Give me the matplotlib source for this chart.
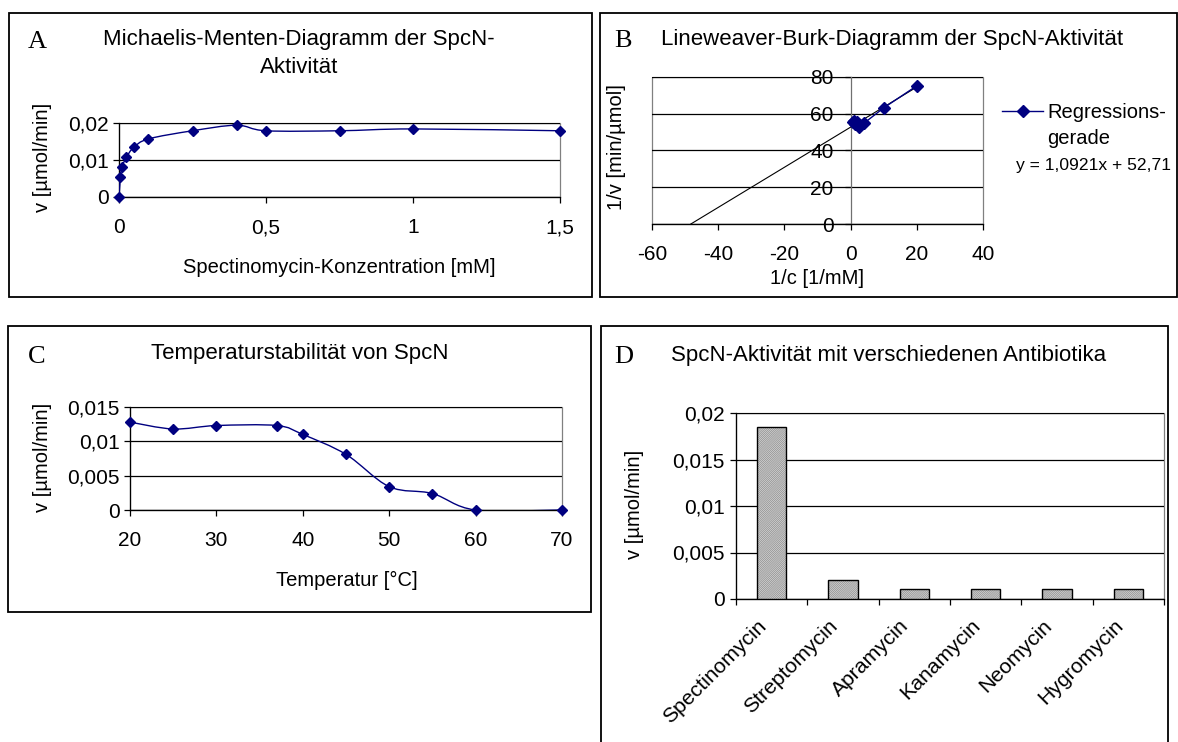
import numpy as np
import matplotlib
matplotlib.use("Agg")
import matplotlib.pyplot as plt
import matplotlib.transforms as mtransforms
from matplotlib.path import Path
from matplotlib.patches import PathPatch, Rectangle

# --- data ---
# A: Michaelis-Menten
mm_conc = [0, 0.005, 0.01, 0.025, 0.05, 0.1, 0.25, 0.4, 0.5, 0.75, 1.0, 1.5]
mm_rate = [0, 0.0054, 0.0081, 0.0107, 0.0134, 0.0157, 0.0179, 0.0194, 0.0179, 0.0179, 0.0184, 0.0179]
mm_xticks = [0, 0.5, 1, 1.5]
mm_xticklabels = ["0", "0,5", "1", "1,5"]
mm_yticks = [0, 0.01, 0.02]
mm_yticklabels = ["0", "0,01", "0,02"]

# B: Lineweaver-Burk
lb_inv_c = [0.67, 1.0, 1.33, 2.0, 2.5, 4.0, 10.0, 20.0]
lb_inv_v = [55.4, 56.0, 54.6, 55.6, 53.0, 54.8, 63.2, 75.2]
lb_slope = 1.0921
lb_intercept = 52.71
lb_xticks = [-60, -40, -20, 0, 20, 40]
lb_xticklabels = ["-60", "-40", "-20", "0", "20", "40"]
lb_yticks = [0, 20, 40, 60, 80]
lb_yticklabels = ["0", "20", "40", "60", "80"]

# C: temperature stability
temp = [20, 25, 30, 37, 40, 45, 50, 55, 60, 70]
temp_rate = [0.0128, 0.0118, 0.0123, 0.0123, 0.0110, 0.0081, 0.0034, 0.0024, 0.0, 0.0]
temp_xticks = [20, 30, 40, 50, 60, 70]
temp_yticks = [0, 0.005, 0.01, 0.015]
temp_yticklabels = ["0", "0,005", "0,01", "0,015"]

# D: antibiotics
antibiotics = ["Spectinomycin", "Streptomycin", "Apramycin", "Kanamycin", "Neomycin", "Hygromycin"]
ab_rate = [0.0185, 0.0020, 0.0011, 0.0011, 0.0011, 0.0011]
ab_yticks = [0, 0.005, 0.01, 0.015, 0.02]
ab_yticklabels = ["0", "0,005", "0,01", "0,015", "0,02"]

W, H = 1178, 742
plt.rcParams["font.family"] = ["Liberation Sans", "DejaVu Sans"]
plt.rcParams["axes.unicode_minus"] = False
plt.rcParams["hatch.linewidth"] = 0.5

fig = plt.figure(figsize=(W / 100, H / 100), dpi=100)

TXT = 14.5      # axis titles (pt)
TICK = 15
TITLE = 16
LETTER = 19
NAVY = "#000080"
BORDER = "#808080"
MS = 5.3


def px_axes(l, t, r, b):
    return fig.add_axes([l / W, 1 - b / H, (r - l) / W, (b - t) / H])


def ftext(x, y, s, **kw):
    return fig.text(x / W, 1 - y / H, s, **kw)


def panel_box(l, t, r, b):
    fig.add_artist(Rectangle((l / W, 1 - b / H), (r - l) / W, (b - t) / H,
                             transform=fig.transFigure, fill=False, ec="black", lw=1.3))


def style_axes(ax, ypad=3):
    ax.spines["top"].set_visible(False)
    ax.spines["right"].set_visible(False)
    for s in ["left", "bottom"]:
        ax.spines[s].set_color("black")
        ax.spines[s].set_linewidth(0.9)
    ax.add_patch(Rectangle((0, 0), 1, 1, transform=ax.transAxes, fill=False,
                           ec=BORDER, lw=0.9, zorder=0.5, clip_on=False))
    ax.yaxis.grid(True, color="black", lw=0.9)
    ax.set_axisbelow(True)
    ax.tick_params(axis="x", direction="out", length=4.3, width=0.9, pad=11, labelsize=TICK)
    ax.tick_params(axis="y", direction="out", length=4.3, width=0.9, pad=ypad, labelsize=TICK)


def smooth_curve(ax, x, y, **kw):
    # Excel-like smoothed line: cubic bezier through the points
    pts = np.column_stack([x, y]).astype(float)
    n = len(pts)
    verts = [pts[0]]
    codes = [Path.MOVETO]
    for i in range(n - 1):
        p0 = pts[i - 1] if i > 0 else pts[i]
        p1 = pts[i]
        p2 = pts[i + 1]
        p3 = pts[i + 2] if i + 2 < n else pts[i + 1]
        verts += [p1 + (p2 - p0) / 6, p2 - (p3 - p1) / 6, p2]
        codes += [Path.CURVE4] * 3
    ax.add_patch(PathPatch(Path(verts, codes), fill=False, **kw))


# ---------------- A ----------------
panel_box(9, 13, 592, 297)
axA = px_axes(119, 123, 560, 197)
style_axes(axA)
smooth_curve(axA, mm_conc, mm_rate, ec=NAVY, lw=1.0, zorder=3)
axA.plot(mm_conc, mm_rate, ls="none", marker="D", ms=MS, color=NAVY, zorder=4, clip_on=False)
axA.set_xlim(0, 1.5)
axA.set_ylim(0, 0.02)
axA.set_xticks(mm_xticks, mm_xticklabels)
axA.set_yticks(mm_yticks, mm_yticklabels)
ftext(28, 48, "A", family="Liberation Serif", fontsize=LETTER)
ftext(299, 45, "Michaelis-Menten-Diagramm der SpcN-", fontsize=TITLE, ha="center")
ftext(299, 73, "Aktivität", fontsize=TITLE, ha="center")
ftext(43, 157, "v [µmol/min]", fontsize=TXT, rotation=90, ha="center", va="center")
ftext(339, 273, "Spectinomycin-Konzentration [mM]", fontsize=TXT, ha="center")

# ---------------- B ----------------
panel_box(600, 13, 1177, 297)
axB = px_axes(652, 77, 983, 224)
style_axes(axB, ypad=8)
axB.spines["left"].set_position(("data", 0))
axB.spines["left"].set_color("#707070")
axB.set_xlim(-60, 40)
axB.set_ylim(0, 80)
axB.set_xticks(lb_xticks, lb_xticklabels)
axB.set_yticks(lb_yticks, lb_yticklabels)
x_start = -lb_intercept / lb_slope
x_line = np.array([x_start, max(lb_inv_c)])
axB.plot(x_line, lb_slope * x_line + lb_intercept, color="black", lw=0.8, zorder=3)
lineB, = axB.plot(lb_inv_c, lb_inv_v, color=NAVY, lw=1.0, marker="D", ms=MS + 0.5, zorder=4)
axB.legend([lineB], ["Regressions-"], loc="center left",
           bbox_to_anchor=(1002 / W, 1 - 113 / H), bbox_transform=fig.transFigure,
           frameon=False, fontsize=TXT, handlelength=2.05, handletextpad=0.2,
           borderpad=0, borderaxespad=0)
ftext(1047, 144, "gerade", fontsize=TXT)
ftext(1016, 170, "y = 1,0921x + 52,71", fontsize=12.6)
ftext(614, 47, "B", family="Liberation Serif", fontsize=LETTER)
ftext(892, 45, "Lineweaver-Burk-Diagramm der SpcN-Aktivität", fontsize=TITLE, ha="center")
ftext(617, 147, "1/v [min/µmol]", fontsize=TXT, rotation=90, ha="center", va="center")
ftext(817, 284, "1/c [1/mM]", fontsize=TXT, ha="center")

# ---------------- C ----------------
panel_box(8, 326, 591, 612)
axC = px_axes(130, 407, 562, 510)
style_axes(axC)
smooth_curve(axC, temp, temp_rate, ec=NAVY, lw=1.0, zorder=3)
axC.plot(temp, temp_rate, ls="none", marker="D", ms=MS, color=NAVY, zorder=4, clip_on=False)
axC.set_xlim(20, 70)
axC.set_ylim(0, 0.015)
axC.set_xticks(temp_xticks, [str(t) for t in temp_xticks])
axC.set_yticks(temp_yticks, temp_yticklabels)
ftext(28, 363, "C", family="Liberation Serif", fontsize=LETTER)
ftext(300, 359, "Temperaturstabilität von SpcN", fontsize=TITLE, ha="center")
ftext(42, 457, "v [µmol/min]", fontsize=TXT, rotation=90, ha="center", va="center")
ftext(347, 586, "Temperatur [°C]", fontsize=TXT, ha="center")

# ---------------- D ----------------
panel_box(601, 326, 1168, 760)
axD = px_axes(736, 413, 1164, 599)
style_axes(axD, ypad=4)
xpos = np.arange(len(antibiotics))
axD.bar(xpos, ab_rate, width=0.41, color="#d6d6d6", hatch="/" * 16, edgecolor="#8c8c8c",
        lw=0, zorder=3)
axD.bar(xpos, ab_rate, width=0.41, fill=False, edgecolor="black", lw=1.0, zorder=4)
axD.set_xlim(-0.5, len(antibiotics) - 0.5)
axD.set_ylim(0, 0.02)
axD.set_yticks(ab_yticks, ab_yticklabels)
axD.set_xticks(np.arange(len(antibiotics) + 1) - 0.5, [""] * (len(antibiotics) + 1))
lab_trans = mtransforms.blended_transform_factory(axD.transData, axD.transAxes) + \
    mtransforms.ScaledTranslation(-0.15, -0.17, fig.dpi_scale_trans)
for xp, name in zip(xpos, antibiotics):
    axD.text(xp, 0, name, transform=lab_trans, rotation=45, rotation_mode="anchor",
             ha="right", va="top", fontsize=15.2)
ftext(614, 363, "D", family="Liberation Serif", fontsize=LETTER)
ftext(889, 361, "SpcN-Aktivität mit verschiedenen Antibiotika", fontsize=TITLE, ha="center")
ftext(635, 504, "v [µmol/min]", fontsize=TXT, rotation=90, ha="center", va="center")

fig.savefig("out.png", dpi=100)
